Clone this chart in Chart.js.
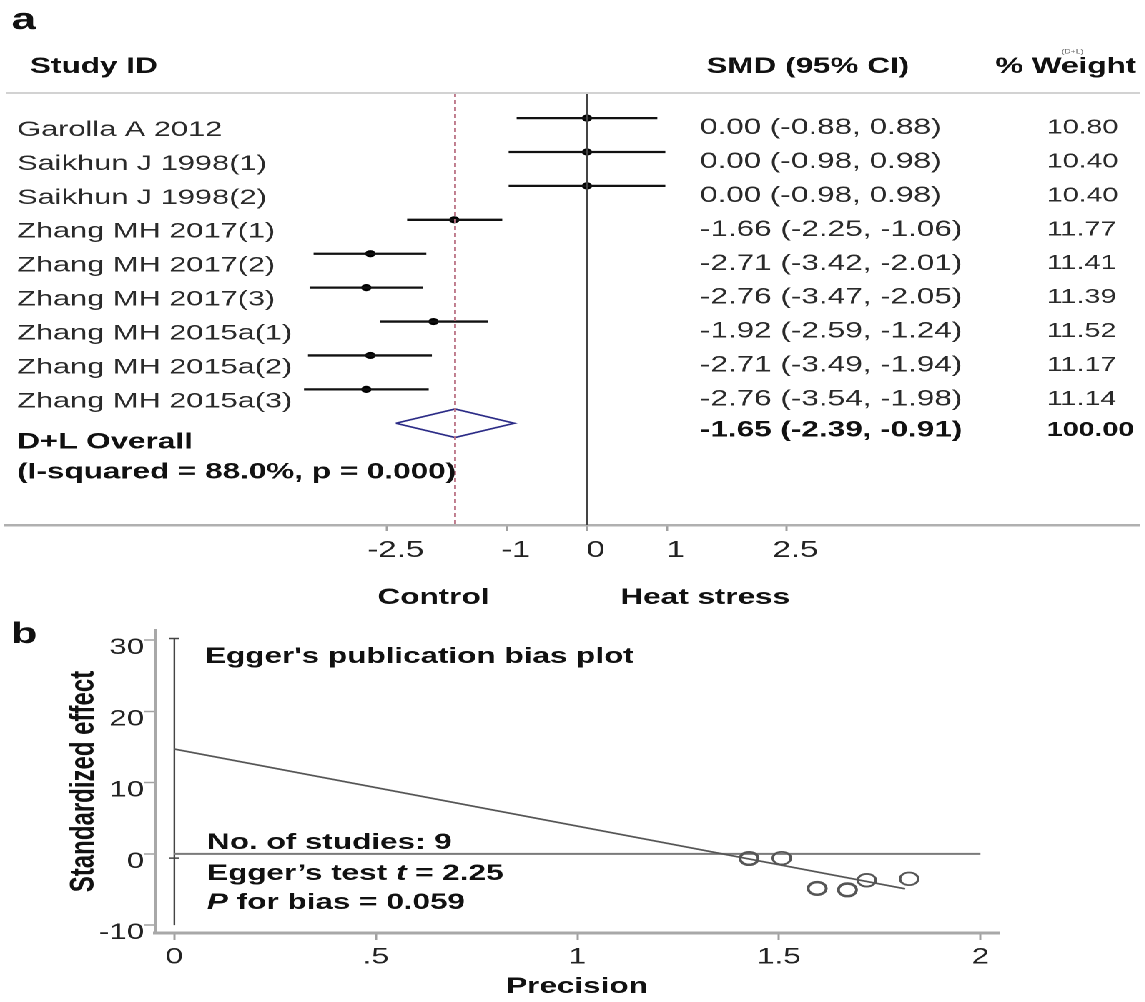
<!DOCTYPE html>
<html>
<head>
<meta charset="utf-8">
<title>Forest plot and Egger's plot</title>
<script src="https://cdn.jsdelivr.net/npm/chart.js@4.4.1/dist/chart.umd.min.js"></script>
<style>
  html, body { margin: 0; padding: 0; background: #fff; overflow: hidden; }
  /* the source figure is stretched sideways, so the whole drawing is too */
  #wrap { position: absolute; left: 0; top: 0; width: 801px; height: 1002px; transform: scaleX(1.43); transform-origin: 0 0; }
  #forest { position: absolute; left: 0; top: 0; }
  #egger { position: absolute; left: 0; top: 612px; }
</style>
</head>
<body>
<div id="wrap">
  <canvas id="forest" width="801" height="612"></canvas>
  <canvas id="egger" width="801" height="390"></canvas>
</div>
<script>
// panel a: forest plot
const studies = ["Garolla A 2012", "Saikhun J 1998(1)", "Saikhun J 1998(2)", "Zhang MH 2017(1)", "Zhang MH 2017(2)",
                 "Zhang MH 2017(3)", "Zhang MH 2015a(1)", "Zhang MH 2015a(2)", "Zhang MH 2015a(3)"]
const smd = [0.00, 0.00, 0.00, -1.66, -2.71, -2.76, -1.92, -2.71, -2.76]
const ciLow = [-0.88, -0.98, -0.98, -2.25, -3.42, -3.47, -2.59, -3.49, -3.54]
const ciHigh = [0.88, 0.98, 0.98, -1.06, -2.01, -2.05, -1.24, -1.94, -1.98]
const weights = [10.80, 10.40, 10.40, 11.77, 11.41, 11.39, 11.52, 11.17, 11.14]
const overallEst = -1.65
const overallLow = -2.39
const overallHigh = -0.91
const overallWeight = 100.00
const forestTicks = [-2.5, -1, 0, 1, 2.5]

// panel b: Egger's plot
const precision = [1.426, 1.426, 1.507, 1.595, 1.595, 1.670, 1.670, 1.718, 1.823]
const stdEffect = [-0.6, -0.7, -0.6, -4.9, -4.8, -5.0, -5.1, -3.7, -3.5]
const fitX = [0, 1.813]
const fitY = [14.7, -4.9]
const barY = [30.2, -10]
const barMarks = [30.2, -0.6]
const eggerTicksX = [0, 0.5, 1, 1.5, 2]
const eggerTickLabelsX = ["0", ".5", "1", "1.5", "2"]
const eggerTicksY = [-10, 0, 10, 20, 30]


const FONT = "'Liberation Sans', Arial, Helvetica, sans-serif"
Chart.defaults.font.family = FONT
Chart.defaults.color = "#222"

function drawText(ctx, str, x, y, size, weight, color, align, base) {
    ctx.font = weight + " " + size + "px " + FONT
    ctx.fillStyle = color
    ctx.textAlign = align || "left"
    ctx.textBaseline = base || "middle"
    ctx.fillText(str, x, y)
}

function drawRuns(ctx, runs, x, y, size, color) {
    ctx.textAlign = "left"
    ctx.textBaseline = "alphabetic"
    ctx.fillStyle = color
    runs.forEach(([s, style]) => {
        ctx.font = style + " bold " + size + "px " + FONT
        ctx.fillText(s, x, y)
        x += ctx.measureText(s).width
    })
}

const fmt = v => v.toFixed(2)

const yTopA = -0.74
const yBottomA = 12.0

const forestLabels = {
    id: "forestLabels",
    afterDraw(chart) {
        const { ctx, chartArea, scales: { x, y } } = chart
        ctx.save()
        ctx.strokeStyle = "#d2d2d2"
        ctx.lineWidth = 2
        ctx.beginPath()
        ctx.moveTo(chartArea.left, chartArea.top)
        ctx.lineTo(chartArea.right, chartArea.top)
        ctx.stroke()

        drawText(ctx, "a", 8, 29, 31, "bold", "#111", "left", "alphabetic")
        drawText(ctx, "Study ID", 21, 67, 22, "bold", "#111")
        drawText(ctx, "SMD (95% CI)", 494, 67, 22, "bold", "#111")
        drawText(ctx, "% Weight", 696, 67, 22, "bold", "#111")
        drawText(ctx, "(D+L)", 750, 52, 6, "normal", "#666", "center")

        studies.forEach((s, i) => {
            const py = y.getPixelForValue(i)
            drawText(ctx, s, 12, py + 12, 21.5, "normal", "#2a2a2a")
            drawText(ctx, fmt(smd[i]) + " (" + fmt(ciLow[i]) + ", " + fmt(ciHigh[i]) + ")", 489.5, py + 10, 22, "normal", "#2a2a2a")
            drawText(ctx, fmt(weights[i]), 732, py + 10, 20, "normal", "#2a2a2a")
        })
        const oy = y.getPixelForValue(studies.length)
        drawText(ctx, "D+L Overall", 12, oy + 19, 22, "bold", "#111")
        drawText(ctx, "(I-squared = 88.0%, p = 0.000)", 12, oy + 49, 22, "bold", "#111")
        drawText(ctx, fmt(overallEst) + " (" + fmt(overallLow) + ", " + fmt(overallHigh) + ")", 489.5, oy + 7, 22, "bold", "#111")
        drawText(ctx, fmt(overallWeight), 732, oy + 7, 20, "bold", "#111")

        drawText(ctx, "Control", x.getPixelForValue(-1.92), 598, 22, "bold", "#111", "center")
        drawText(ctx, "Heat stress", x.getPixelForValue(1.48), 598, 22, "bold", "#111", "center")
        ctx.restore()
    }
}

const ciSets = studies.map((s, i) => ({
    data: [{ x: ciLow[i], y: i }, { x: ciHigh[i], y: i }],
    showLine: true,
    borderColor: "#111",
    borderWidth: 2.3,
    pointRadius: 0
}))

const oRow = studies.length
const diamond = [
    { x: overallLow, y: oRow }, { x: overallEst, y: oRow - 0.42 },
    { x: overallHigh, y: oRow }, { x: overallEst, y: oRow + 0.42 },
    { x: overallLow, y: oRow }
]

new Chart(document.getElementById("forest"), {
    type: "scatter",
    data: {
        datasets: [
            { data: [{ x: 0, y: yTopA }, { x: 0, y: yBottomA }], showLine: true, borderColor: "#444", borderWidth: 1.3, pointRadius: 0 },
            { data: [{ x: overallEst, y: yTopA }, { x: overallEst, y: yBottomA }], showLine: true, borderColor: "#bb7385",
              borderWidth: 1.4, borderDash: [4, 3], pointRadius: 0 },
            ...ciSets,
            { data: studies.map((s, i) => ({ x: smd[i], y: i })), pointRadius: 3.6, pointBackgroundColor: "#000",
              pointBorderColor: "#000", pointBorderWidth: 0 },
            { data: diamond, showLine: true, borderColor: "#2b2b86", borderWidth: 1.6, pointRadius: 0 }
        ]
    },
    options: {
        responsive: false,
        animation: false,
        devicePixelRatio: 2,
        layout: { padding: { left: 3.5, right: 0, top: 93, bottom: 0 } },
        plugins: { legend: { display: false }, tooltip: { enabled: false } },
        scales: {
            x: {
                type: "linear",
                min: -7.271,
                max: 6.914,
                afterBuildTicks: s => { s.ticks = forestTicks.map(v => ({ value: v })) },
                afterFit: s => { s.height = 87 },
                ticks: { callback: v => String(v), font: { size: 23 }, color: "#222", padding: 6, labelOffset: 6,
                         autoSkip: false, maxRotation: 0 },
                grid: { drawOnChartArea: false, drawTicks: true, tickLength: 6, tickColor: "#a0a0a0", tickWidth: 1.5 },
                border: { display: true, color: "#b0b0b0", width: 2.5 }
            },
            y: { type: "linear", min: yTopA, max: yBottomA, reverse: true, display: false }
        }
    },
    plugins: [forestLabels]
})


const eggerLabels = {
    id: "eggerLabels",
    afterDraw(chart) {
        const { ctx } = chart
        ctx.save()
        drawText(ctx, "b", 7.7, 31, 30, "bold", "#111", "left", "alphabetic")
        drawText(ctx, "Egger's publication bias plot", 143.4, 51, 22, "bold", "#111", "left", "alphabetic")
        drawText(ctx, "No. of studies: " + precision.length, 144.8, 237, 22, "bold", "#111", "left", "alphabetic")
        drawRuns(ctx, [["Egger\u2019s test ", "normal"], ["t", "italic"], [" = 2.25", "normal"]], 144.8, 268, 22, "#111")
        drawRuns(ctx, [["P", "italic"], [" for bias = 0.059", "normal"]], 144.8, 297, 22, "#111")
        ctx.restore()
    }
}

new Chart(document.getElementById("egger"), {
    type: "scatter",
    data: {
        datasets: [
            { data: precision.map((p, i) => ({ x: p, y: stdEffect[i] })), pointStyle: "circle", pointRadius: 6.3,
              pointBorderWidth: 1.8, pointBorderColor: "#555", pointBackgroundColor: "rgba(0,0,0,0)" },
            { data: fitX.map((v, i) => ({ x: v, y: fitY[i] })), showLine: true, borderColor: "#555", borderWidth: 1.6, pointRadius: 0 },
            { data: [{ x: eggerTicksX[0], y: 0 }, { x: eggerTicksX[eggerTicksX.length - 1], y: 0 }], showLine: true,
              borderColor: "#7a7a7a", borderWidth: 2, pointRadius: 0 },
            { data: barY.map(v => ({ x: 0, y: v })), showLine: true, borderColor: "#444", borderWidth: 1.2, pointRadius: 0 },
            { data: barMarks.map(v => ({ x: 0, y: v })), pointStyle: "line", pointRadius: 3.5, pointBorderWidth: 1.5,
              pointBorderColor: "#444" }
        ]
    },
    options: {
        responsive: false,
        animation: false,
        devicePixelRatio: 2,
        layout: { padding: { left: 0, right: 102.4, top: 18, bottom: 0 } },
        plugins: { legend: { display: false }, tooltip: { enabled: false } },
        scales: {
            x: {
                type: "linear",
                min: -0.048,
                max: 2.046,
                afterBuildTicks: s => { s.ticks = eggerTicksX.map(v => ({ value: v })) },
                afterFit: s => { s.height = 69 },
                ticks: { callback: (v, i) => eggerTickLabelsX[i], font: { size: 22 }, color: "#222", padding: 4,
                         autoSkip: false, maxRotation: 0 },
                grid: { drawOnChartArea: false, tickLength: 7, tickColor: "#a0a0a0", tickWidth: 1.5 },
                border: { display: true, color: "#a8a8a8", width: 3 },
                title: { display: true, text: "Precision", font: { size: 22, weight: "bold" }, color: "#111",
                         padding: { top: 0, bottom: 1.8 } }
            },
            y: {
                type: "linear",
                min: -11.1,
                max: 31.4,
                afterBuildTicks: s => { s.ticks = eggerTicksY.map(v => ({ value: v })) },
                afterFit: s => { s.width = 108.4 },
                ticks: { callback: v => String(v), font: { size: 22 }, color: "#222", padding: 0, labelOffset: 8,
                         autoSkip: false },
                grid: { drawOnChartArea: false, tickLength: 7.5, tickColor: "#a0a0a0", tickWidth: 1.5 },
                border: { display: true, color: "#a8a8a8", width: 2.3 },
                title: { display: true, text: "Standardized effect", font: { size: 24, weight: "bold" }, color: "#111",
                         padding: { top: 44.3, bottom: 0 } }
            }
        }
    },
    plugins: [eggerLabels]
})
</script>
</body>
</html>
